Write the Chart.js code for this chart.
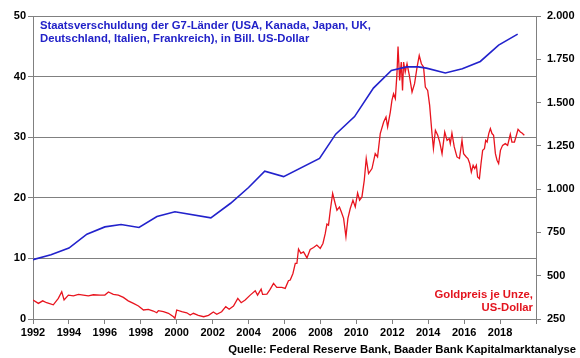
<!DOCTYPE html>
<html lang="de">
<head>
<meta charset="utf-8">
<title>Staatsverschuldung G7 und Goldpreis</title>
<script src="https://cdn.jsdelivr.net/npm/chart.js@4.4.1/dist/chart.umd.min.js"></script>
<style>
    html, body { margin: 0; padding: 0; background: #fff; }
    #wrap { position: relative; width: 580px; height: 358px; font-family: "Liberation Sans", Arial, sans-serif; font-weight: bold; }
    #chart { position: absolute; left: 0; top: 0; }
    .note { position: absolute; font-size: 11.3px; line-height: 12.5px; white-space: nowrap; }
    #debtTitle { left: 40px; top: 19px; color: #2222c8; }
    #goldTitle { right: 47px; top: 288px; color: #e3141e; text-align: right; }
    #source { right: 4px; top: 343px; color: #000; }
</style>
</head>
<body>
<div id="wrap">
    <canvas id="chart" width="580" height="358"></canvas>
    <div class="note" id="debtTitle">Staatsverschuldung der G7-Länder (USA, Kanada, Japan, UK,<br>Deutschland, Italien, Frankreich), in Bill. US-Dollar</div>
    <div class="note" id="goldTitle">Goldpreis je Unze,<br>US-Dollar</div>
    <div class="note" id="source">Quelle: Federal Reserve Bank, Baader Bank Kapitalmarktanalyse</div>
</div>
<script>
// Staatsverschuldung G7 (Bill. US-Dollar), linke Achse
const debtYears  = [1992.0, 1993.0, 1994.0, 1995.0, 1996.0, 1996.9, 1997.9, 1998.9, 1999.9, 2001.9, 2003.0, 2004.0, 2004.9, 2005.95, 2007.95, 2008.85, 2009.9, 2010.95, 2011.95, 2012.8, 2013.45, 2013.9, 2014.95, 2015.9, 2016.9, 2017.92, 2018.98];
const debtValues = [9.8, 10.6, 11.7, 14.0, 15.2, 15.6, 15.1, 16.9, 17.7, 16.7, 19.1, 21.7, 24.4, 23.5, 26.5, 30.5, 33.4, 38.1, 41.0, 41.6, 41.6, 41.4, 40.6, 41.3, 42.5, 45.2, 47.0];

// Goldpreis je Unze (US-Dollar), rechte Achse
const goldYears = [
    1992.0, 1992.3, 1992.54, 1992.76, 1993.13, 1993.41, 1993.6, 1993.73, 1993.97, 1994.25,
    1994.53, 1994.8, 1995.08, 1995.36, 1995.73, 1996.0, 1996.2, 1996.47, 1996.75, 1997.03,
    1997.3, 1997.59, 1997.87, 1998.15, 1998.42, 1998.7, 1998.89, 1998.98, 1999.26, 1999.54,
    1999.82, 1999.9, 2000.0, 2000.28, 2000.56, 2000.75, 2000.93, 2001.2, 2001.5, 2001.77,
    2002.04, 2002.23, 2002.5, 2002.73, 2002.92, 2003.16, 2003.4, 2003.59, 2003.81, 2004.09,
    2004.37, 2004.5, 2004.7, 2004.78, 2005.02, 2005.2, 2005.39, 2005.57, 2005.85, 2006.04,
    2006.22, 2006.32, 2006.47, 2006.6, 2006.69, 2006.78, 2006.91, 2007.06, 2007.25, 2007.43,
    2007.62, 2007.8, 2007.99, 2008.14, 2008.27, 2008.36, 2008.45, 2008.55, 2008.68, 2008.82,
    2008.92, 2009.06, 2009.16, 2009.29, 2009.42, 2009.53, 2009.66, 2009.81, 2009.94, 2010.07,
    2010.18, 2010.31, 2010.44, 2010.55, 2010.68, 2010.87, 2011.05, 2011.18, 2011.33, 2011.52,
    2011.65, 2011.74, 2011.89, 2011.98, 2012.07, 2012.17, 2012.26, 2012.32, 2012.41, 2012.5,
    2012.57, 2012.63, 2012.72, 2012.82, 2012.95, 2013.1, 2013.24, 2013.38, 2013.5, 2013.62,
    2013.74, 2013.84, 2013.97, 2014.08, 2014.21, 2014.29, 2014.4, 2014.53, 2014.64, 2014.77,
    2014.92, 2015.05, 2015.17, 2015.23, 2015.32, 2015.45, 2015.6, 2015.74, 2015.88, 2015.97,
    2016.12, 2016.21, 2016.31, 2016.4, 2016.5, 2016.59, 2016.68, 2016.75, 2016.85, 2016.94,
    2017.03, 2017.13, 2017.2, 2017.28, 2017.37, 2017.46, 2017.55, 2017.64, 2017.74, 2017.83,
    2017.92, 2018.02, 2018.14, 2018.29, 2018.42, 2018.57, 2018.66, 2018.8, 2018.91, 2019.0,
    2019.13, 2019.22, 2019.35
];
const goldValues = [
    360, 340, 355, 344, 332, 369, 407, 360, 388, 384,
    392, 388, 384, 390, 388, 388, 406, 392, 388, 375,
    355, 340, 325, 302, 306, 296, 286, 298, 292, 283,
    263, 254, 302, 292, 286, 273, 283, 271, 263, 271,
    290, 277, 292, 321, 306, 325, 369, 344, 360, 388,
    413, 388, 423, 392, 394, 421, 456, 433, 433, 427,
    471, 475, 513, 571, 571, 654, 629, 638, 603, 652,
    663, 677, 658, 686, 744, 798, 792, 878, 975, 917,
    878, 897, 869, 831, 725, 831, 888, 936, 897, 978,
    936, 955, 1051, 1177, 1090, 1119, 1205, 1186, 1321, 1388,
    1417, 1359, 1445, 1513, 1551, 1523, 1667, 1824, 1628, 1734,
    1570, 1734, 1676, 1724, 1657, 1561, 1609, 1705, 1772, 1724,
    1705, 1590, 1570, 1484, 1321, 1234, 1340, 1311, 1272, 1205,
    1330, 1282, 1292, 1263, 1324, 1244, 1186, 1177, 1282, 1205,
    1186, 1177, 1148, 1099, 1138, 1119, 1138, 1070, 1061, 1148,
    1224, 1234, 1282, 1272, 1321, 1350, 1321, 1311, 1205, 1167,
    1148, 1224, 1253, 1263, 1253, 1317, 1272, 1272, 1311, 1345,
    1330, 1324, 1311
];

// Achsen
const yearTicks = [1992, 1994, 1996, 1998, 2000, 2002, 2004, 2006, 2008, 2010, 2012, 2014, 2016, 2018];
const debtTicks = [0, 10, 20, 30, 40, 50];
const goldTicks = [250, 500, 750, 1000, 1250, 1500, 1750, 2000];

const GRID = "#808080";
const tickFont = { family: "'Liberation Sans', Arial, sans-serif", size: 11, weight: "bold" };

function toPoints(xs, ys) {
    return xs.map((x, i) => ({ x: x, y: ys[i] }));
}

// 2000 -> "2.000"
function formatGerman(v) {
    return String(v).replace(/\B(?=(\d{3})+(?!\d))/g, ".");
}

document.addEventListener("DOMContentLoaded", () => {
    const ctx = document.getElementById("chart");

    new Chart(ctx, {
        type: "line",
        data: {
            datasets: [
                {
                    label: "Staatsverschuldung G7",
                    data: toPoints(debtYears, debtValues),
                    borderColor: "#2222cc",
                    borderWidth: 1.6,
                    pointRadius: 0,
                    tension: 0,
                    yAxisID: "y"
                },
                {
                    label: "Goldpreis",
                    data: toPoints(goldYears, goldValues),
                    borderColor: "#e8141e",
                    borderWidth: 1.3,
                    pointRadius: 0,
                    tension: 0,
                    yAxisID: "y2"
                }
            ]
        },
        options: {
            responsive: false,
            animation: false,
            layout: { padding: { top: 16, left: 0, right: 0, bottom: 0 } },
            plugins: { legend: { display: false }, tooltip: { enabled: false } },
            scales: {
                x: {
                    type: "linear",
                    min: 1992,
                    max: 2020,
                    afterFit: (s) => { s.height = 39; },
                    afterBuildTicks: (s) => { s.ticks = yearTicks.concat([2020]).map(v => ({ value: v })); },
                    ticks: {
                        color: "#000",
                        font: tickFont,
                        padding: 2,
                        maxRotation: 0,
                        autoSkip: false,
                        callback: (v) => (yearTicks.includes(v) ? String(v) : "")
                    },
                    grid: { drawOnChartArea: false, drawTicks: true, tickLength: 5, color: GRID },
                    border: { color: GRID, width: 1 }
                },
                y: {
                    position: "left",
                    min: 0,
                    max: 50,
                    afterFit: (s) => { s.width = 33; },
                    afterBuildTicks: (s) => { s.ticks = debtTicks.map(v => ({ value: v })); },
                    ticks: { color: "#000", font: tickFont, padding: 2 },
                    grid: { color: GRID, tickLength: 5 },
                    border: { color: GRID, width: 1 }
                },
                y2: {
                    position: "right",
                    min: 250,
                    max: 2000,
                    afterFit: (s) => { s.width = 44; },
                    afterBuildTicks: (s) => { s.ticks = goldTicks.map(v => ({ value: v })); },
                    ticks: { color: "#000", font: tickFont, padding: 6, callback: (v) => formatGerman(v) },
                    grid: { drawOnChartArea: false, tickLength: 5, color: GRID },
                    border: { color: GRID, width: 1 }
                }
            }
        }
    });

    console.log("✅ Chart gerendert");
});
</script>
</body>
</html>
